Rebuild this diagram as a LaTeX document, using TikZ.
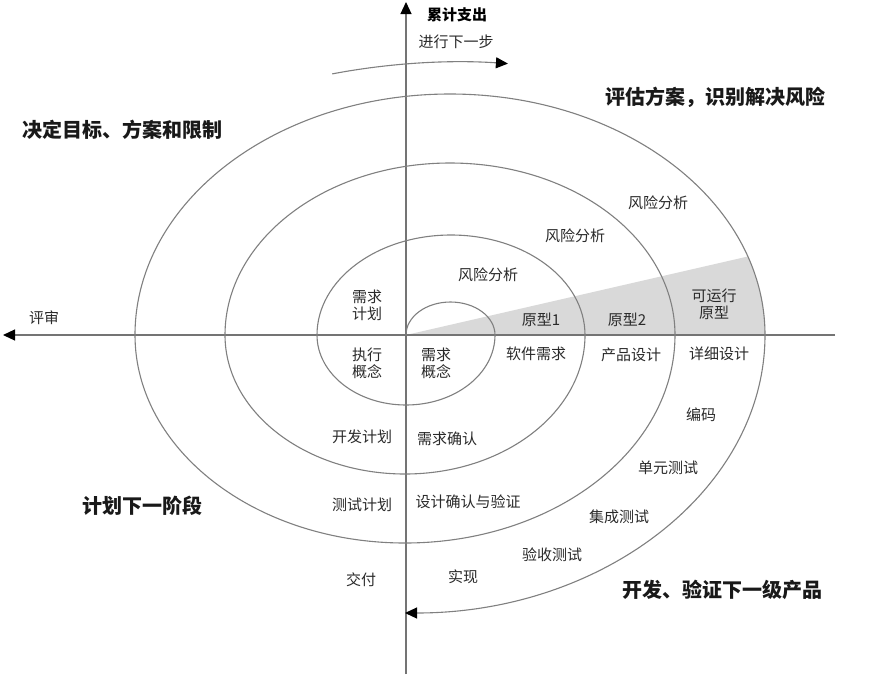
\documentclass[tikz,border=0pt]{standalone}
\usepackage{fontspec}
\setmainfont{Noto Sans CJK SC}
\usetikzlibrary{arrows.meta}
\definecolor{linegray}{HTML}{808080}
\definecolor{axisgray}{HTML}{747474}
\definecolor{wedgegray}{HTML}{D9D9D9}
\definecolor{txt}{HTML}{2A2A2A}
\begin{document}
\begin{tikzpicture}[x=1pt,y=1pt,
  spiral/.style={draw=linegray, line width=1.1pt},
  axisline/.style={draw=axisgray, line width=1.2pt},
  tip/.style={-{Triangle[length=12pt,width=11pt,color=black]}},
  lbl/.style={text=txt, font=\fontsize{15}{17}\selectfont, inner sep=0pt, align=center},
  big/.style={text=black!90, font=\fontsize{20}{22}\selectfont\bfseries, inner sep=0pt},
]
\useasboundingbox[fill=white] (0,0) rectangle (878,-681);

% centre and wedge
\coordinate (C) at (406,-335);
\coordinate (W) at (747.8,-256.5);
\fill[wedgegray] (C) -- (W) arc[start angle=19, end angle=0, x radius=315pt, y radius=241pt] -- cycle;

% axes
\coordinate (vb) at (406,-674);
\coordinate (vt) at (406,-2);
\coordinate (hr) at (835,-335);
\coordinate (hl) at (3,-335);
\draw[axisline, tip] (vb) -- (vt);
\draw[axisline, tip] (hr) -- (hl);

% spiral
\draw[spiral, tip] (C)
  arc[start angle=180, end angle=0,   x radius=44.5pt, y radius=33pt]
  arc[start angle=0,   end angle=-180, x radius=89pt,  y radius=70pt]
  arc[start angle=180, end angle=0,   x radius=134pt, y radius=100pt]
  arc[start angle=0,   end angle=-180, x radius=180pt, y radius=139pt]
  arc[start angle=180, end angle=0,   x radius=225pt, y radius=172pt]
  arc[start angle=0,   end angle=-180, x radius=270pt, y radius=208pt]
  arc[start angle=180, end angle=0,   x radius=315pt, y radius=241pt]
  arc[start angle=0,   end angle=-90,  x radius=360pt, y radius=278pt];

% top curved arrow
\coordinate (ts) at (332.2,-73.9);
\draw[spiral, tip] (ts) arc[start angle=107, end angle=83.7, x radius=437pt, y radius=273pt];

% labels
\node[lbl, font=\fontsize{15}{17}\selectfont\bfseries, text=black] (lcum) at (457,-15) {累计支出};
\node[lbl] (lnext) at (456,-42) {进行下一步};
\node[big] (lq1) at (715,-97) {评估方案，识别解决风险};
\node[big] (lq2) at (122,-130) {决定目标、方案和限制};
\node[big] (lq3) at (142,-506) {计划下一阶段};
\node[big] (lq4) at (722,-590) {开发、验证下一级产品};
\node[lbl] (lrev) at (44,-318) {评审};

\node[lbl] (l1) at (367,-305) {需求\\计划};
\node[lbl] (l2) at (367,-363) {执行\\概念};
\node[lbl] (l3) at (436,-363) {需求\\概念};
\node[lbl] (r1) at (488,-275) {风险分析};
\node[lbl] (r2) at (575,-236) {风险分析};
\node[lbl] (r3) at (658,-203) {风险分析};
\node[lbl] (p1) at (541,-320) {原型1};
\node[lbl] (p2) at (627,-320) {原型2};
\node[lbl] (p3) at (714,-304) {可运行\\原型};
\node[lbl] (d1) at (536,-354) {软件需求};
\node[lbl] (d2) at (631,-355) {产品设计};
\node[lbl] (d3) at (719,-354) {详细设计};
\node[lbl] (d4) at (701,-415) {编码};
\node[lbl] (d5) at (668,-468) {单元测试};
\node[lbl] (d6) at (619,-517) {集成测试};
\node[lbl] (d7) at (552,-555) {验收测试};
\node[lbl] (d8) at (463,-577) {实现};
\node[lbl] (d9) at (361,-580) {交付};
\node[lbl] (s1) at (362,-437) {开发计划};
\node[lbl] (s2) at (447,-439) {需求确认};
\node[lbl] (s3) at (362,-505) {测试计划};
\node[lbl] (s4) at (468,-502) {设计确认与验证};
\end{tikzpicture}
\end{document}
